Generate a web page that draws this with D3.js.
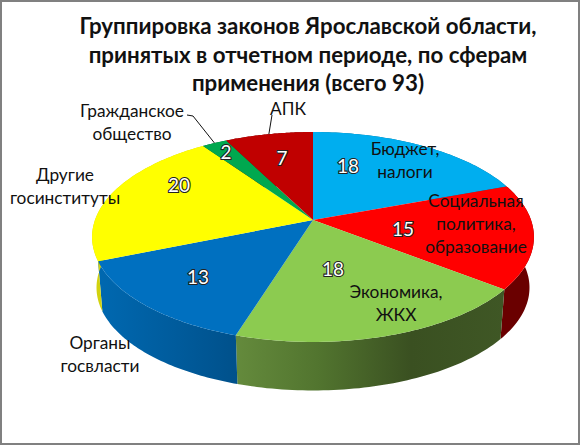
<!DOCTYPE html>
<html>
<head>
<meta charset="utf-8">
<script src="https://cdn.jsdelivr.net/npm/d3@7"></script>
<style>
  html, body { margin: 0; padding: 0; background: #fff; }
  svg { display: block; }
  text { font-family: Lato, "Open Sans", "Noto Sans", sans-serif; text-anchor: middle; }
</style>
</head>
<body>
<svg id="chart"></svg>
<script>
// Data, clockwise from 12 o'clock
const categories = ['Бюджет, налоги', 'Социальная политика, образование', 'Экономика, ЖКХ',
  'Органы госвласти', 'Другие госинституты', 'Гражданское общество', 'АПК'];
const values = [18, 15, 18, 13, 20, 2, 7];
const titleLines = ['Группировка законов Ярославской области,',
  'принятых в отчетном периоде, по сферам', 'применения (всего 93)'];

// Styles
const topColors = ['#00aeef', '#ff0000', '#8ccb50', '#0070c0', '#ffff00', '#00a84f', '#c00000'];
const wallColors = ['#006a90', '#6a0000', 'url(#greenWall)', 'url(#blueWall)', '#d2d20e', '#006030', '#700000'];

// Hand placed text, the way the original chart has it
const categoryLines = [['Бюджет,', 'налоги'], ['Социальная', 'политика,', 'образование'], ['Экономика,', 'ЖКХ'],
  ['Органы', 'госвласти'], ['Другие', 'госинституты'], ['Гражданское', 'общество'], ['АПК']];
const categoryPos = [[405, 149], [476, 201], [396, 292], [100, 343], [65, 175], [132, 111], [288, 109]];
const valuePos = [[348, 166], [403, 229], [333, 269], [198, 277], [179, 185], [226, 152], [282, 158]];

const width = 580;
const height = 445;

// Tilted disc seen in perspective
const cx = 313, cy = 220, cyBottom = 271;
const R = 218, Q = 102.2, k = 0.1618, bottomScale = 0.98;

function project(a, level) {
  const w = 1 + k * Math.cos(a);
  const s = level ? bottomScale : 1;
  return [cx + s * R * Math.sin(a) / w, (level ? cyBottom : cy) - s * Q * Math.cos(a) / w];
}

const svg = d3.select('#chart').attr('width', width).attr('height', height);

// Gradients for the front walls
const defs = svg.append('defs');
const addGradient = (id, x1, x2, stops) => {
  const g = defs.append('linearGradient').attr('id', id)
    .attr('gradientUnits', 'userSpaceOnUse')
    .attr('x1', x1).attr('x2', x2).attr('y1', 0).attr('y2', 0);
  stops.forEach(s => g.append('stop').attr('offset', s[0]).attr('stop-color', s[1]));
};
addGradient('greenWall', 237, 505, [[0, '#648a3c'], [0.3, '#52752f'], [0.65, '#3a5021'], [1, '#3f5725']]);
addGradient('blueWall', 100, 240, [[0, '#0068b0'], [0.6, '#005a9a'], [1, '#00508a']]);

svg.append('rect')
  .attr('x', 1).attr('y', 1).attr('width', width - 2).attr('height', height - 2)
  .attr('fill', '#fff').attr('stroke', '#808080').attr('stroke-width', 2);

const pie = d3.pie().sort(null)(values);
const line = d3.line();

const anglesOf = d => d3.range(0, 61).map(i => d.startAngle + (d.endAngle - d.startAngle) * i / 60);

// Walls first, the top surface covers whatever faces away
svg.append('g').selectAll('path')
  .data(pie)
  .join('path')
  .attr('d', d => {
    const angles = anglesOf(d);
    return line(angles.map(a => project(a, 0)).concat(angles.reverse().map(a => project(a, 1)))) + 'Z';
  })
  .attr('fill', (d, i) => wallColors[i]);

// Top surface
svg.append('g').selectAll('path')
  .data(pie)
  .join('path')
  .attr('d', d => line([[cx, cy]].concat(anglesOf(d).map(a => project(a, 0)))) + 'Z')
  .attr('fill', (d, i) => topColors[i]);

// Leader lines for the two thin slices
const leaderElbows = { 5: [[187, 115], [193, 116]], 6: [[272, 115]] };
Object.keys(leaderElbows).forEach(i => {
  const d = pie[i];
  svg.append('path')
    .attr('d', line(leaderElbows[i].concat([project((d.startAngle + d.endAngle) / 2, 0)])))
    .attr('fill', 'none').attr('stroke', '#111').attr('stroke-width', 1);
});

// Title
svg.append('g').selectAll('text')
  .data(titleLines)
  .join('text')
  .attr('x', 308)
  .attr('y', (d, i) => 34 + i * 28.5)
  .attr('font-size', 22.3)
  .attr('font-weight', 700)
  .attr('fill', '#111')
  .text(d => d);

// Category labels
categoryLines.forEach((lines, i) => {
  svg.append('text')
    .attr('font-size', 17.3)
    .attr('fill', '#111')
    .attr('aria-label', categories[i])
    .selectAll('tspan')
    .data(lines)
    .join('tspan')
    .attr('x', categoryPos[i][0])
    .attr('y', (d, j) => categoryPos[i][1] + 6 + j * 23)
    .text(d => d);
});

// Value labels, white with a dark outline
svg.append('g').selectAll('text')
  .data(values)
  .join('text')
  .attr('x', (d, i) => valuePos[i][0])
  .attr('y', (d, i) => valuePos[i][1] + 7)
  .attr('font-size', 19)
  .attr('font-weight', 400)
  .attr('fill', '#fff')
  .attr('stroke', '#222')
  .attr('stroke-width', 2.2)
  .attr('paint-order', 'stroke')
  .text(d => d);
</script>
</body>
</html>
